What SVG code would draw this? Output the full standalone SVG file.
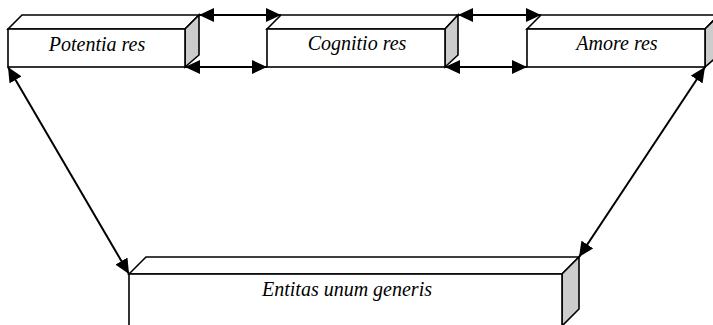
<svg xmlns="http://www.w3.org/2000/svg" width="713" height="325" viewBox="0 0 713 325">
<style>
.face{fill:#ffffff;stroke:#000;stroke-width:1.6;stroke-linejoin:miter}
.side{fill:#cccccc;stroke:#000;stroke-width:1.6}
.lbl{font-family:"Liberation Serif","Times New Roman",serif;font-style:italic;font-size:20px;fill:#000;text-anchor:middle}
.con{stroke:#000;stroke-width:2;fill:none;marker-start:url(#ah);marker-end:url(#ah)}
</style>
<defs>
<marker id="ah" markerUnits="userSpaceOnUse" markerWidth="16" markerHeight="14" refX="15" refY="7" orient="auto-start-reverse">
<path d="M0,0 L15,7 L0,14 Z" fill="#000"/>
</marker>
</defs>
<rect width="713" height="325" fill="#fff"/>
<g id="potentia">
<polygon class="face" points="8,29 22,15 199,15 185,29"/>
<polygon class="side" points="185,29 199,15 199,55 185,67"/>
<rect class="face" x="8" y="29" width="177" height="38"/>
<text class="lbl" x="97" y="51">Potentia res</text>
</g>
<g id="cognitio">
<polygon class="face" points="267,29 281,15 458,15 445,29"/>
<polygon class="side" points="445,29 458,15 458,55 445,67"/>
<rect class="face" x="267" y="29" width="178" height="38"/>
<text class="lbl" x="357" y="50">Cognitio res</text>
</g>
<g id="amore">
<polygon class="face" points="527,29 541,15 719,15 705,29"/>
<polygon class="side" points="705,29 719,15 719,55 705,67"/>
<rect class="face" x="527" y="29" width="178" height="38"/>
<text class="lbl" x="617" y="50">Amore res</text>
</g>
<g id="entitas">
<polygon class="face" points="129,274 146,257 579,257 562,274"/>
<polygon class="side" points="562,274 579,257 579,309 562,326"/>
<rect class="face" x="129" y="274" width="433" height="60"/>
<text class="lbl" x="347" y="296">Entitas unum generis</text>
</g>
<g id="connectors">
<line class="con" x1="199" y1="15" x2="281" y2="15"/>
<line class="con" x1="185" y1="67" x2="267" y2="67"/>
<line class="con" x1="458" y1="15" x2="541" y2="15"/>
<line class="con" x1="445" y1="67" x2="527" y2="67"/>
<line class="con" x1="8" y1="67" x2="129" y2="274"/>
<line class="con" x1="705" y1="67" x2="579" y2="257"/>
</g>
</svg>
